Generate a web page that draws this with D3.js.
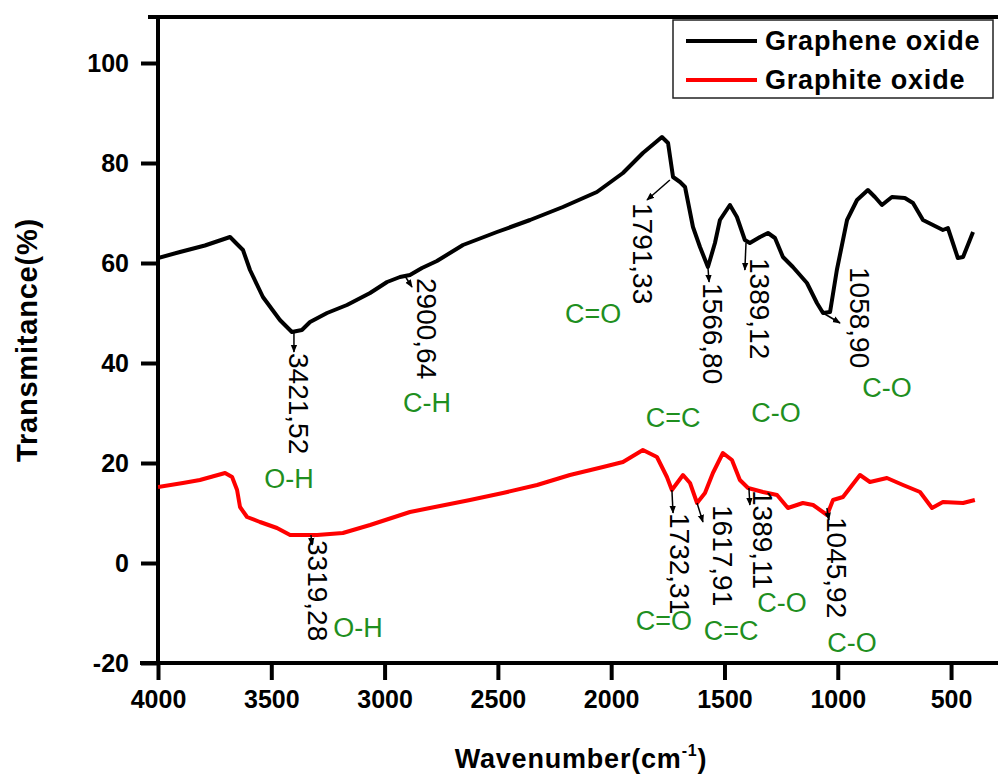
<!DOCTYPE html>
<html>
<head>
<meta charset="utf-8">
<script src="https://cdn.jsdelivr.net/npm/d3@7"></script>
<style>
  body { margin: 0; background: #fff; }
  svg { display: block; font-family: "Liberation Sans", Arial, sans-serif; }
</style>
</head>
<body>
<svg width="998" height="778"></svg>
<script>
// FTIR spectra (wavenumber cm-1, transmittance %)
var grapheneWn = [4000, 3903, 3793, 3682, 3656, 3625, 3594, 3537, 3462, 3409, 3365, 3329, 3254, 3166, 3064,
  2989, 2932, 2888, 2835, 2769, 2654, 2504, 2358, 2213, 2063, 1948, 1860, 1776, 1749, 1727, 1696, 1674,
  1639, 1608, 1573, 1542, 1520, 1476, 1445, 1410, 1388, 1343, 1308, 1277, 1242, 1198, 1136, 1092, 1065,
  1034, 1004, 959, 915, 867, 836, 805, 761, 704, 668, 624, 580, 536, 514, 492, 470, 447, 417, 403]
var grapheneT = [61, 62.2, 63.5, 65.2, 64, 62.6, 58.6, 53.2, 48.6, 46.2, 46.6, 48.2, 50, 51.6, 54,
  56.2, 57.2, 57.6, 59, 60.4, 63.6, 66.2, 68.6, 71.2, 74.2, 78, 82, 85.2, 84, 77.2, 76.2, 75.2,
  67.2, 63.2, 59.2, 64, 68.6, 71.6, 69.2, 64.6, 64, 65.2, 66, 65, 61.2, 59.2, 56, 52, 50,
  50.2, 58.6, 68.6, 72.6, 74.6, 73.2, 71.6, 73.2, 73, 72, 68.6, 67.6, 66.6, 67, 64, 61, 61.2, 64.6, 66.2]

var graphiteWn = [4000, 3890, 3815, 3704, 3673, 3651, 3638, 3607, 3550, 3475, 3417, 3298, 3184, 3064,
  2888, 2800, 2623, 2478, 2327, 2182, 2036, 1948, 1860, 1798, 1754, 1732, 1683, 1652, 1621, 1586,
  1551, 1507, 1467, 1432, 1396, 1330, 1268, 1220, 1154, 1109, 1047, 1021, 977, 902, 858, 783,
  712, 637, 584, 536, 447, 395]
var graphiteT = [15.2, 16, 16.6, 18, 17.2, 14.6, 11.2, 9.2, 8.2, 7, 5.6, 5.6, 6, 7.6,
  10.2, 11, 12.6, 14, 15.6, 17.6, 19.2, 20.2, 22.6, 21.2, 17.2, 14.6, 17.6, 16, 12, 14,
  18, 22, 20.6, 16.6, 15, 14.2, 13.6, 11, 12, 11.6, 9.6, 12.6, 13.2, 17.6, 16.2, 17,
  15.6, 14.2, 11, 12.2, 12, 12.6]

var seriesNames = ["Graphene oxide", "Graphite oxide"]
var seriesColors = ["#000000", "#ff0000"]

var xTicks = [4000, 3500, 3000, 2500, 2000, 1500, 1000, 500]
var yTicks = [-20, 0, 20, 40, 60, 80, 100]

// peak labels: text, curve point, arrow end, label anchor (all in data units)
var peakText = ["3421,52", "2900,64", "1791,33", "1566,80", "1389,12", "1058,90",
  "3319,28", "1732,31", "1617,91", "1389,11", "1045,92"]
var peakCurveWn = [3400, 2910, 1741, 1573, 1405, 1065, 3325, 1732, 1621, 1392, 1048]
var peakCurveT = [46, 57.4, 76.6, 59.2, 64, 50, 5.6, 14.6, 12, 15, 11]
var peakEndWn = [3400, 2879, 1842, 1568, 1410, 990, 3320, 1727, 1595, 1388, 1039]
var peakEndT = [42.2, 55.2, 72.6, 56.2, 58.6, 48, 3.6, 10, 8.2, 11.6, 8.6]
var peakLabelWn = [3422, 2857, 1904, 1595, 1387, 946, 3338, 1740, 1551, 1374, 1048]
var peakLabelT = [42, 57, 72, 56, 61, 59.2, 4.6, 10, 11.6, 14.6, 9.2]

// band assignments (green)
var bandText = ["O-H", "C-H", "C=O", "C=C", "C-O", "C-O", "O-H", "C=O", "C=C", "C-O", "C-O"]
var bandWn = [3422, 2813, 2080, 1727, 1273, 783, 3117, 1767, 1471, 1246, 937]
var bandT = [15, 30.2, 48, 27.2, 28.2, 33.2, -14.8, -13.4, -15.4, -9.8, -17.8]

var svg = d3.select("svg")
var mLeft = 158, mRight = 1000, mTop = 17, mBottom = 663

var x = d3.scaleLinear().domain([4000, 284]).range([mLeft, mRight])
var y = d3.scaleLinear().domain([-20, 109.2]).range([mBottom, mTop])

var defs = svg.append("defs")
defs.append("marker")
  .attr("id", "arr")
  .attr("viewBox", "0 0 10 10")
  .attr("refX", 9).attr("refY", 5)
  .attr("markerWidth", 8).attr("markerHeight", 8)
  .attr("markerUnits", "userSpaceOnUse")
  .attr("orient", "auto")
  .append("path")
  .attr("d", "M0,1 L10,5 L0,9 Z")
  .attr("fill", "#000")

defs.append("clipPath").attr("id", "plot")
  .append("rect").attr("x", mLeft).attr("y", mTop)
  .attr("width", mRight - mLeft).attr("height", mBottom - mTop)

// axes
var gx = svg.append("g").attr("transform", "translate(0," + mBottom + ")")
gx.call(d3.axisBottom(x).tickValues(d3.range(4000, 249, -250)).tickSize(10).tickFormat(""))
gx.call(d3.axisBottom(x).tickValues(xTicks).tickSize(17).tickPadding(10).tickFormat(function(d) { return String(d) }))
gx.selectAll(".domain").remove()
gx.selectAll("line").attr("stroke", "#000").attr("stroke-width", 4)
gx.selectAll("text").attr("font-size", 25).attr("font-weight", "bold").attr("fill", "#000")

var gy = svg.append("g").attr("transform", "translate(" + mLeft + ",0)")
gy.call(d3.axisLeft(y).tickValues(d3.range(-20, 101, 10)).tickSize(10).tickFormat(""))
gy.call(d3.axisLeft(y).tickValues(yTicks).tickSize(17).tickPadding(12).tickFormat(function(d) { return String(d) }))
gy.selectAll(".domain").remove()
gy.selectAll("line").attr("stroke", "#000").attr("stroke-width", 4)
gy.selectAll("text").attr("font-size", 25).attr("font-weight", "bold").attr("fill", "#000")

// frame
svg.append("line").attr("x1", mLeft).attr("x2", mLeft).attr("y1", mTop).attr("y2", mBottom)
  .attr("stroke", "#000").attr("stroke-width", 4)
svg.append("line").attr("x1", mLeft - 18).attr("x2", 998).attr("y1", mBottom).attr("y2", mBottom)
  .attr("stroke", "#000").attr("stroke-width", 4)
svg.append("line").attr("x1", mLeft - 10).attr("x2", 998).attr("y1", mTop).attr("y2", mTop)
  .attr("stroke", "#000").attr("stroke-width", 4)

// curves
var line = d3.line().x(function(d) { return x(d[0]) }).y(function(d) { return y(d[1]) })
var seriesData = [d3.zip(grapheneWn, grapheneT), d3.zip(graphiteWn, graphiteT)]
svg.append("g").attr("clip-path", "url(#plot)")
  .selectAll("path")
  .data(seriesData)
  .enter()
  .append("path")
  .attr("d", line)
  .attr("fill", "none")
  .attr("stroke", function(d, i) { return seriesColors[i] })
  .attr("stroke-width", 4)
  .attr("stroke-linejoin", "round")

// peak arrows + numbers
var peaks = peakText.map(function(t, i) { return i })
svg.append("g").selectAll("line")
  .data(peaks)
  .enter()
  .append("line")
  .attr("x1", function(i) { return x(peakCurveWn[i]) })
  .attr("y1", function(i) { return y(peakCurveT[i]) })
  .attr("x2", function(i) { return x(peakEndWn[i]) })
  .attr("y2", function(i) { return y(peakEndT[i]) })
  .attr("stroke", "#000")
  .attr("stroke-width", 1.5)
  .attr("marker-end", "url(#arr)")

svg.append("g").selectAll("text")
  .data(peaks)
  .enter()
  .append("text")
  .attr("transform", function(i) {
    return "translate(" + x(peakLabelWn[i]) + "," + y(peakLabelT[i]) + ") rotate(90)"
  })
  .attr("font-size", 28)
  .attr("fill", "#000")
  .text(function(i) { return peakText[i] })

svg.append("g").selectAll("text")
  .data(bandText)
  .enter()
  .append("text")
  .attr("x", function(d, i) { return x(bandWn[i]) })
  .attr("y", function(d, i) { return y(bandT[i]) })
  .attr("text-anchor", "middle")
  .attr("font-size", 27)
  .attr("fill", "#1f8f1f")
  .text(function(d) { return d })

// axis titles
svg.append("text")
  .attr("transform", "translate(37,340) rotate(-90)")
  .attr("text-anchor", "middle")
  .attr("font-size", 29)
  .attr("letter-spacing", 0.8)
  .attr("font-weight", "bold")
  .text("Transmitance(%)")

var xt = svg.append("text")
  .attr("x", 581).attr("y", 768)
  .attr("text-anchor", "middle")
  .attr("font-size", 27)
  .attr("letter-spacing", 0.8)
  .attr("font-weight", "bold")
xt.append("tspan").text("Wavenumber(cm")
xt.append("tspan").attr("font-size", 16).attr("dy", -12).text("-1")
xt.append("tspan").attr("dy", 12).text(")")

// legend
var lg = svg.append("g")
lg.append("rect").attr("x", 673).attr("y", 20).attr("width", 320).attr("height", 78)
  .attr("fill", "#fff").attr("stroke", "#222").attr("stroke-width", 1.5)
seriesNames.forEach(function(name, i) {
  var ly = 41 + i * 39
  lg.append("line").attr("x1", 686).attr("x2", 757).attr("y1", ly).attr("y2", ly)
    .attr("stroke", seriesColors[i]).attr("stroke-width", 4)
  lg.append("text").attr("x", 765).attr("y", ly + 9)
    .attr("font-size", 27).attr("letter-spacing", 0.8)
    .attr("font-weight", "bold").text(name)
})
</script>
</body>
</html>
